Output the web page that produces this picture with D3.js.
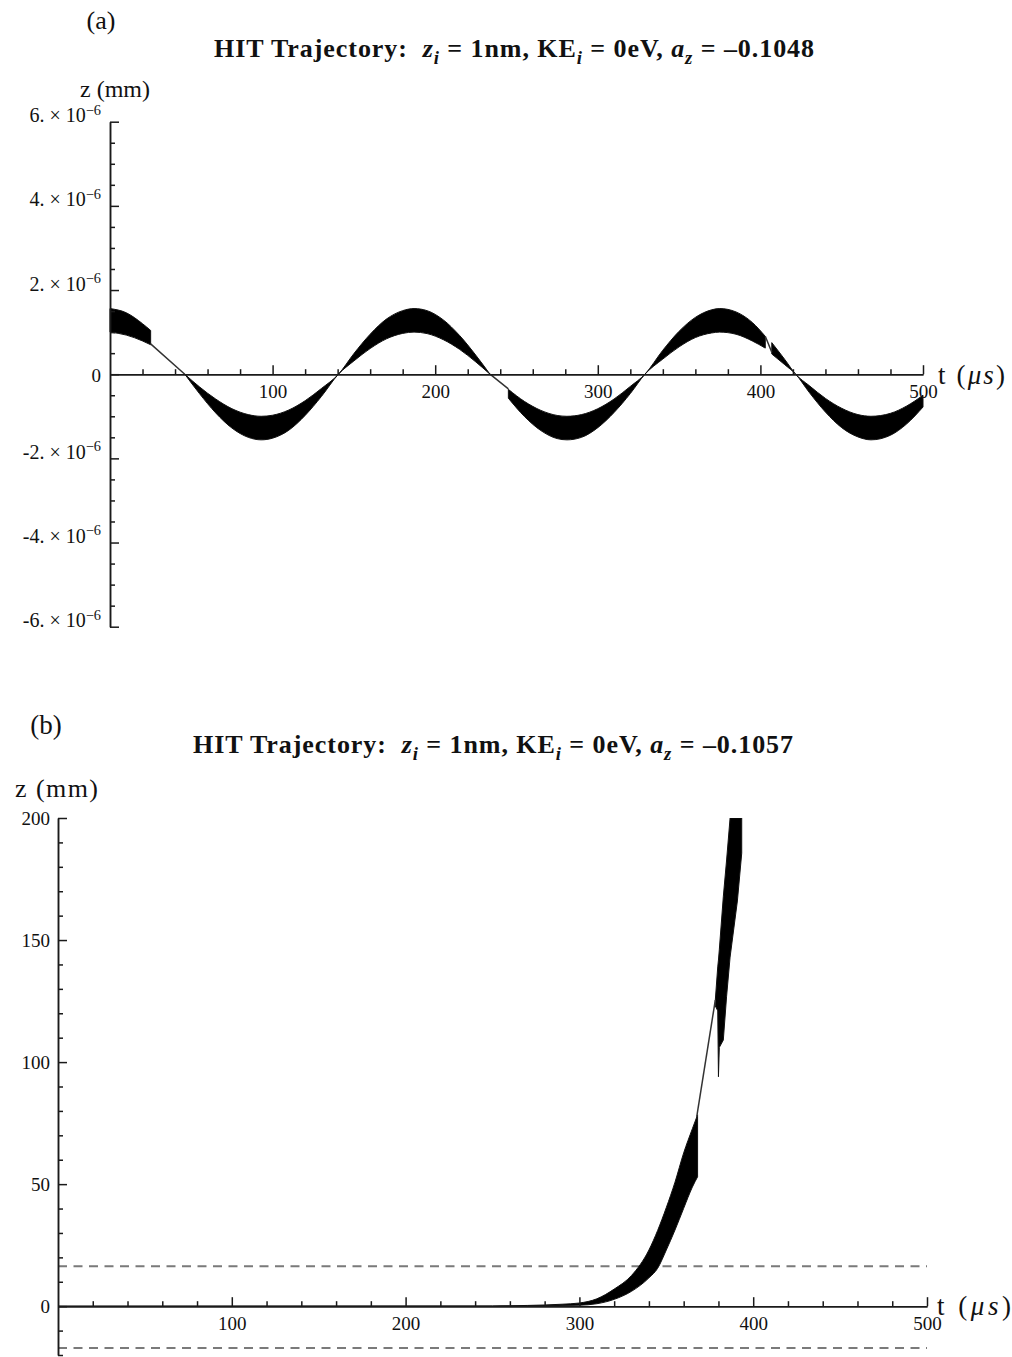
<!DOCTYPE html>
<html>
<head>
<meta charset="utf-8">
<script src="https://cdnjs.cloudflare.com/ajax/libs/d3/7.8.5/d3.min.js"></script>
<style>
  body { margin: 0; background: #fff; }
  svg text { font-family: "Liberation Serif", "Times New Roman", serif; fill: #111; white-space: pre; }
  .axis path, .axis line { stroke: #1a1a1a; stroke-width: 1.5; }
</style>
</head>
<body>
<svg id="chart" width="1012" height="1357"></svg>
<script>
// ---- panel (a): values of the band are in units of 1e-6 mm ----
const UNIT_A = 1e-6;
// null splits the band where the trace thins out to a single stroke
const aBandT  = [0, 10, 20, 25, null,
                 46, 55, 65, 75, 85, 93, 100, 110, 120, 130, 140.5,
                 150, 160, 170, 180, 187, 195, 205, 215, 225, 233.7, null,
                 245, 255, 265, 275, 281, 290, 300, 310, 320, 329,
                 340, 350, 360, 370, 375, 385, 395, 403, null,
                 407, 415, 421.7, 430, 440, 450, 460, 468, 480, 490, 500];
const aBandHi = [1.56, 1.46, 1.20, 1.04, null,
                 0, -0.30, -0.59, -0.82, -0.96, -1.00, -0.975, -0.85, -0.63, -0.34, 0,
                 0.49, 0.95, 1.31, 1.51, 1.56, 1.51, 1.29, 0.92, 0.45, 0, null,
                 -0.36, -0.65, -0.86, -0.98, -1.00, -0.96, -0.82, -0.59, -0.29, 0,
                 0.57, 1.02, 1.35, 1.53, 1.56, 1.48, 1.23, 0.90, null,
                 0.75, 0.35, 0, -0.27, -0.575, -0.81, -0.96, -1.00, -0.93, -0.755, -0.50];
const aBandLo = [1.00, 0.93, 0.79, 0.70, null,
                 0, -0.46, -0.92, -1.28, -1.50, -1.56, -1.52, -1.33, -0.98, -0.53, 0,
                 0.315, 0.61, 0.84, 0.97, 1.00, 0.965, 0.82, 0.59, 0.29, 0, null,
                 -0.57, -1.01, -1.34, -1.53, -1.56, -1.50, -1.27, -0.91, -0.46, 0,
                 0.36, 0.65, 0.87, 0.98, 1.00, 0.95, 0.79, 0.62, null,
                 0.48, 0.225, 0, -0.43, -0.90, -1.27, -1.49, -1.56, -1.45, -1.18, -0.78];
const aThinT = [25, 46, null, 233.7, 245, null, 403, 407];
const aThinZ = [0.72, 0, null, 0, -0.35, null, 0.90, 0.52];

const aXTicks = [100, 200, 300, 400, 500];
const aYTicks = [-6, -4, -2, 0, 2, 4, 6];
const aYLabels = ['-6.', '-4.', '-2.', '0', '2.', '4.', '6.'];

// ---- panel (b) ----
const bLowT  = [0, 250, 270, 290, 300, 310, 320, 330, 340, 345, 350, 355, 360, 365, 368];
const bLowHi = [0, 0.1, 0.3, 0.8, 1.3, 3.0, 7.0, 12.6, 23.0, 31.0, 40.4, 50.8, 62.8, 72.7, 78.4];
const bLowLo = [0, 0, 0.1, 0.3, 0.4, 1.0, 2.8, 6.1, 11.6, 15.5, 23.0, 31.2, 40.1, 48.8, 53.0];
const bTopT  = [378.2, 379.6, 380, 380.5, 382.8, 384.7, 386.7, 390.9, 393.4];
const bTopHi = [125.4, 139, 141.8, 146, 167.7, 182.8, 200, 200, 200];
const bTopLo = [123, 121, 94, 106, 109, 127, 143, 166, 185.6];
const bThinT = [367.5, 378.2];
const bThinZ = [77.6, 125.4];
const bDashZ = [16.4, -17.1];

const bXTicks = [100, 200, 300, 400, 500];
const bYTicks = [0, 50, 100, 150, 200];

const titleValues = ['\u20130.1048', '\u20130.1057'];

function titleParts(v) {
    return [
        { t: 'HIT Trajectory:  ' },
        { t: 'z', i: true }, { t: 'i', i: true, sub: true },
        { t: ' = 1nm, KE' }, { t: 'i', i: true, sub: true },
        { t: ' = 0eV, ' },
        { t: 'a', i: true }, { t: 'z', i: true, sub: true },
        { t: ' = ' + v }
    ];
}

const TICK_FONT = 19;
const svg = d3.select('#chart');

// text with sub/superscripts built from tspans
function richText(sel, parts, size) {
    let shift = 0;
    parts.forEach(p => {
        const want = p.sub ? size * 0.28 : p.sup ? -size * 0.38 : 0;
        const ts = sel.append('tspan').text(p.t).attr('dy', want - shift);
        shift = want;
        if (p.sub || p.sup) ts.attr('font-size', size * 0.72);
        if (p.i) ts.attr('font-style', 'italic');
    });
    return sel;
}

function label(x, y, size, parts, opts = {}) {
    const t = svg.append('text')
        .attr('x', x).attr('y', y)
        .attr('font-size', size)
        .attr('xml:space', 'preserve')
        .attr('text-anchor', opts.anchor || 'start')
        .attr('font-weight', opts.bold ? 'bold' : 'normal');
    if (opts.width) t.attr('textLength', opts.width).attr('lengthAdjust', 'spacing');
    return richText(t, parts, size);
}

// axes with inward ticks: y ticks point right, x ticks point up
function drawAxes(x, y, xMajor, xMinor, yMajor, yMinor, yPad) {
    svg.append('g').attr('class', 'axis')
        .attr('transform', `translate(${x.range()[0]},0)`)
        .call(d3.axisLeft(y).tickValues(yMinor).tickSize(-5).tickSizeOuter(0).tickFormat(''));
    const yAxis = svg.append('g').attr('class', 'axis')
        .attr('transform', `translate(${x.range()[0]},0)`)
        .call(d3.axisLeft(y).tickValues(yMajor).tickSize(-9).tickSizeOuter(0).tickPadding(yPad));
    svg.append('g').attr('class', 'axis')
        .attr('transform', `translate(0,${y(0)})`)
        .call(d3.axisBottom(x).tickValues(xMinor).tickSize(-5).tickSizeOuter(0).tickFormat(''));
    svg.append('g').attr('class', 'axis')
        .attr('transform', `translate(0,${y(0)})`)
        .call(d3.axisBottom(x).tickValues(xMajor).tickSize(-9).tickSizeOuter(0).tickPadding(10));
    svg.selectAll('.axis').attr('font-size', TICK_FONT).attr('font-family', null);
    svg.selectAll('.axis text').attr('fill', '#111');
    return yAxis;
}

// ================= panel (a) =================
const xA = d3.scaleLinear().domain([0, 500]).range([110, 923]);
const yA = d3.scaleLinear().domain([-6e-6, 6e-6]).range([626.7, 121.7]);

label(101, 29, 26, [{ t: '(a)' }], { anchor: 'middle' });
label(514, 57, 26, titleParts(titleValues[0]), { anchor: 'middle', bold: true, width: 600 });
label(80, 97, 24, [{ t: 'z (mm)' }], { width: 70 });
label(938, 384, 27, [{ t: 't (' }, { t: '\u03bcs', i: true }, { t: ')' }], { width: 67 });

const aBand = aBandT.map((t, i) => ({ t, hi: aBandHi[i], lo: aBandLo[i] }));
const aThin = aThinT.map((t, i) => ({ t, z: aThinZ[i] }));

svg.append('path')
    .datum(aBand)
    .attr('d', d3.area()
        .defined(d => d.t != null)
        .x(d => xA(d.t))
        .y0(d => yA(d.lo * UNIT_A))
        .y1(d => yA(d.hi * UNIT_A))
        .curve(d3.curveMonotoneX))
    .attr('fill', '#000')
    .attr('stroke', '#111')
    .attr('stroke-width', 1);

svg.append('path')
    .datum(aThin)
    .attr('d', d3.line()
        .defined(d => d.t != null)
        .x(d => xA(d.t))
        .y(d => yA(d.z * UNIT_A)))
    .attr('fill', 'none')
    .attr('stroke', '#333')
    .attr('stroke-width', 1.5);

const aXMinor = d3.range(20, 500, 20).filter(v => v % 100 !== 0);
const aYMinor = d3.range(-5.5, 6, 0.5).filter(v => v % 2 !== 0).map(v => v * UNIT_A);
const aYAxis = drawAxes(xA, yA, aXTicks, aXMinor, aYTicks.map(v => v * UNIT_A), aYMinor, 9);

// tick labels like "6. × 10^-6"
aYAxis.selectAll('.tick text').each(function(d, i) {
    const t = d3.select(this).text('').attr('xml:space', 'preserve').attr('dy', '0.4em');
    if (aYTicks[i] === 0) {
        t.text('0');
    } else {
        t.attr('font-size', 20);
        richText(t, [{ t: aYLabels[i] + ' \u00d7 10' }, { t: '\u22126', sup: true }], 20);
    }
});

// ================= panel (b) =================
const xB = d3.scaleLinear().domain([0, 500]).range([58, 927]);
const yB = d3.scaleLinear().domain([-20, 200]).range([1355, 818]);

label(46, 734, 27, [{ t: '(b)' }], { anchor: 'middle' });
label(493, 753, 26, titleParts(titleValues[1]), { anchor: 'middle', bold: true, width: 600 });
label(15, 797, 26, [{ t: 'z (mm)' }], { width: 83 });
label(937, 1315, 27, [{ t: 't (' }, { t: '\u03bcs', i: true }, { t: ')' }], { width: 74 });

svg.append('defs').append('clipPath').attr('id', 'clipB')
    .append('rect')
    .attr('x', xB(0)).attr('y', yB(200))
    .attr('width', xB(500) - xB(0)).attr('height', yB(-20) - yB(200));

const plotB = svg.append('g').attr('clip-path', 'url(#clipB)');

plotB.selectAll('line.dash')
    .data(bDashZ)
    .join('line')
    .attr('class', 'dash')
    .attr('x1', xB(0)).attr('x2', xB(500))
    .attr('y1', d => yB(d)).attr('y2', d => yB(d))
    .attr('stroke', '#7a7a7a')
    .attr('stroke-width', 2)
    .attr('stroke-dasharray', '9,6.5');

const bLow = bLowT.map((t, i) => ({ t, hi: bLowHi[i], lo: bLowLo[i] }));
const bTop = bTopT.map((t, i) => ({ t, hi: bTopHi[i], lo: bTopLo[i] }));
const bThin = bThinT.map((t, i) => ({ t, z: bThinZ[i] }));

const areaB = d3.area()
    .x(d => xB(d.t))
    .y0(d => yB(d.lo))
    .y1(d => yB(d.hi));

plotB.append('path')
    .datum(bLow)
    .attr('d', areaB.curve(d3.curveMonotoneX))
    .attr('fill', '#000').attr('stroke', '#111').attr('stroke-width', 1);

plotB.append('path')
    .datum(bTop)
    .attr('d', areaB.curve(d3.curveLinear))
    .attr('fill', '#000').attr('stroke', '#111').attr('stroke-width', 1);

plotB.append('path')
    .datum(bThin)
    .attr('d', d3.line().x(d => xB(d.t)).y(d => yB(d.z)))
    .attr('fill', 'none')
    .attr('stroke', '#333')
    .attr('stroke-width', 1.5);

const bXMinor = d3.range(20, 500, 20).filter(v => v % 100 !== 0);
const bYMinor = d3.range(-20, 200, 10).filter(v => v % 50 !== 0);
drawAxes(xB, yB, bXTicks, bXMinor, bYTicks, bYMinor, 8);
</script>
</body>
</html>
